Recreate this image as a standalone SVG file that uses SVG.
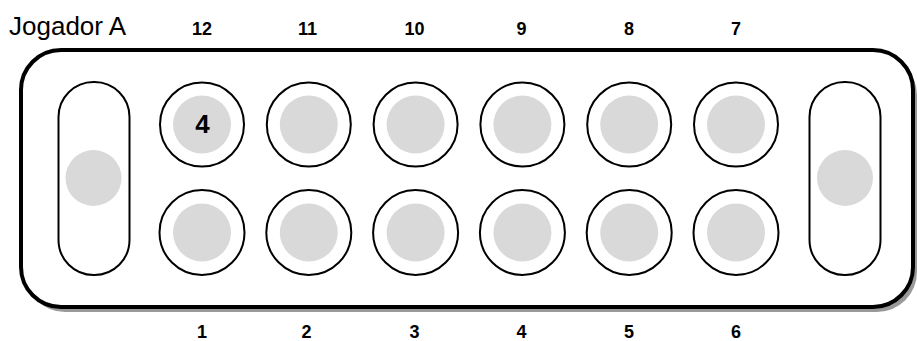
<svg xmlns="http://www.w3.org/2000/svg" width="917" height="341" viewBox="0 0 917 341">
<style>
.lbl{font-family:"Liberation Sans",Arial,sans-serif;font-weight:bold;font-size:18px;fill:#000;text-anchor:middle}
.pit{fill:#fff;stroke:#000;stroke-width:2}
.seed{fill:#d9d9d9}
.store{fill:#fff;stroke:#000;stroke-width:2}
</style>
<rect width="917" height="341" fill="#fff"/>
<g id="board">
<rect x="25" y="55" width="892" height="257" rx="40" fill="#999"/>
<rect x="21" y="50" width="892" height="257" rx="40" fill="#fff" stroke="#000" stroke-width="4"/>
</g>
<text x="9" y="35" font-family="Liberation Sans, Arial, sans-serif" font-size="26" fill="#000">Jogador A</text>
<g id="store-left"><rect class="store" x="58.5" y="82" width="71" height="193" rx="35"/><circle class="seed" cx="93.5" cy="178" r="28"/></g>
<g id="store-right"><rect class="store" x="809.5" y="82" width="71" height="193" rx="35"/><circle class="seed" cx="845" cy="178" r="28"/></g>
<g id="pit-12"><circle class="pit" cx="202" cy="124.5" r="42"/><circle class="seed" cx="202" cy="124.5" r="29"/><text x="202.5" y="133" font-family="Liberation Sans, Arial, sans-serif" font-weight="bold" font-size="26" text-anchor="middle" fill="#000">4</text></g>
<g id="pit-11"><circle class="pit" cx="308.8" cy="124.5" r="42"/><circle class="seed" cx="308.8" cy="124.5" r="29"/></g>
<g id="pit-10"><circle class="pit" cx="415.6" cy="124.5" r="42"/><circle class="seed" cx="415.6" cy="124.5" r="29"/></g>
<g id="pit-9"><circle class="pit" cx="522.4" cy="124.5" r="42"/><circle class="seed" cx="522.4" cy="124.5" r="29"/></g>
<g id="pit-8"><circle class="pit" cx="629.2" cy="124.5" r="42"/><circle class="seed" cx="629.2" cy="124.5" r="29"/></g>
<g id="pit-7"><circle class="pit" cx="736" cy="124.5" r="42"/><circle class="seed" cx="736" cy="124.5" r="29"/></g>
<g id="pit-1"><circle class="pit" cx="202" cy="232.5" r="42.5"/><circle class="seed" cx="202" cy="232.5" r="29"/></g>
<g id="pit-2"><circle class="pit" cx="308.8" cy="232.5" r="42.5"/><circle class="seed" cx="308.8" cy="232.5" r="29"/></g>
<g id="pit-3"><circle class="pit" cx="415.6" cy="232.5" r="42.5"/><circle class="seed" cx="415.6" cy="232.5" r="29"/></g>
<g id="pit-4"><circle class="pit" cx="522.4" cy="232.5" r="42.5"/><circle class="seed" cx="522.4" cy="232.5" r="29"/></g>
<g id="pit-5"><circle class="pit" cx="629.2" cy="232.5" r="42.5"/><circle class="seed" cx="629.2" cy="232.5" r="29"/></g>
<g id="pit-6"><circle class="pit" cx="736" cy="232.5" r="42.5"/><circle class="seed" cx="736" cy="232.5" r="29"/></g>
<g id="labels-top">
<text class="lbl" x="202" y="35">12</text>
<text class="lbl" x="307.5" y="35">11</text>
<text class="lbl" x="414.5" y="35">10</text>
<text class="lbl" x="521.5" y="35">9</text>
<text class="lbl" x="629" y="35">8</text>
<text class="lbl" x="736" y="35">7</text>
</g>
<g id="labels-bottom">
<text class="lbl" x="202" y="338">1</text>
<text class="lbl" x="306.5" y="338">2</text>
<text class="lbl" x="414.5" y="338">3</text>
<text class="lbl" x="521.5" y="338">4</text>
<text class="lbl" x="629" y="338">5</text>
<text class="lbl" x="736" y="338">6</text>
</g>
<g id="connectors"/>
</svg>
